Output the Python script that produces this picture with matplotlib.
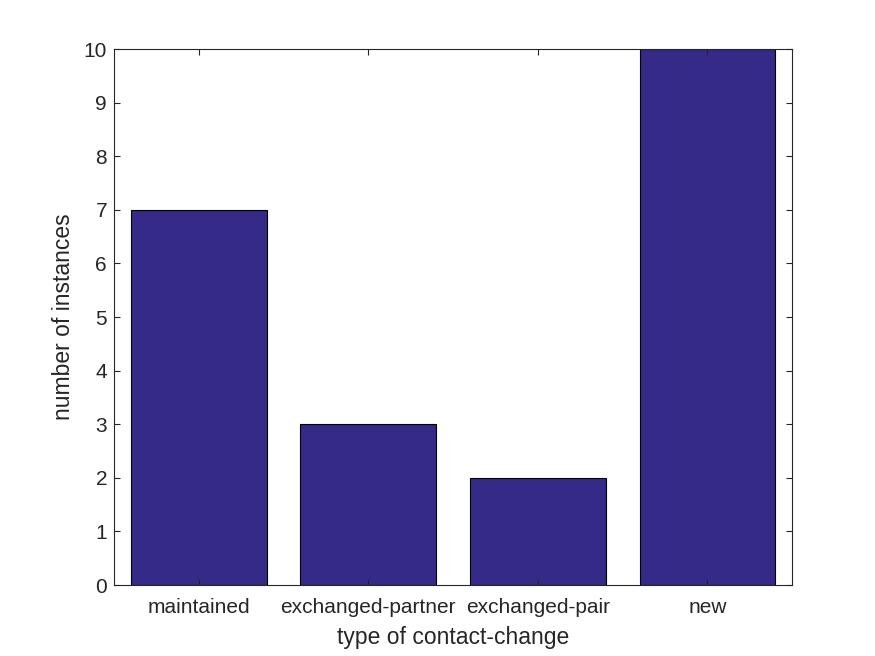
import matplotlib
matplotlib.use("Agg")
import matplotlib.pyplot as plt

# bar data
categories = ["maintained", "exchanged-partner", "exchanged-pair", "new"]
counts = [7, 3, 2, 10]
positions = [1, 2, 3, 4]

plt.rcParams['font.family'] = ['Liberation Sans', 'DejaVu Sans']
axcol = '#262626'

fig = plt.figure(figsize=(8.75, 6.56), dpi=100)
ax = fig.add_axes([0.1303, 0.1082, 0.775, 0.8171])

ax.bar(positions, counts, width=0.8, color='#352a87', edgecolor='black', linewidth=0.8)

ax.set_xlim(0.5, 4.5)
ax.set_ylim(0, 10)
ax.set_xticks(positions)
ax.set_xticklabels(categories)
ax.set_yticks(range(0, 11))

ax.tick_params(axis='both', direction='in', top=True, right=True, length=4,
               width=0.8, color=axcol, labelcolor=axcol, labelsize=15)
ax.tick_params(axis='x', pad=9)
ax.tick_params(axis='y', pad=5)
for s in ax.spines.values():
    s.set_color(axcol)
    s.set_linewidth(0.8)

ax.set_xlabel("type of contact-change", fontsize=16.5, color=axcol, labelpad=7)
ax.set_ylabel("number of instances", fontsize=16.5, color=axcol, labelpad=6.5)

fig.savefig("out.png", dpi=100)
